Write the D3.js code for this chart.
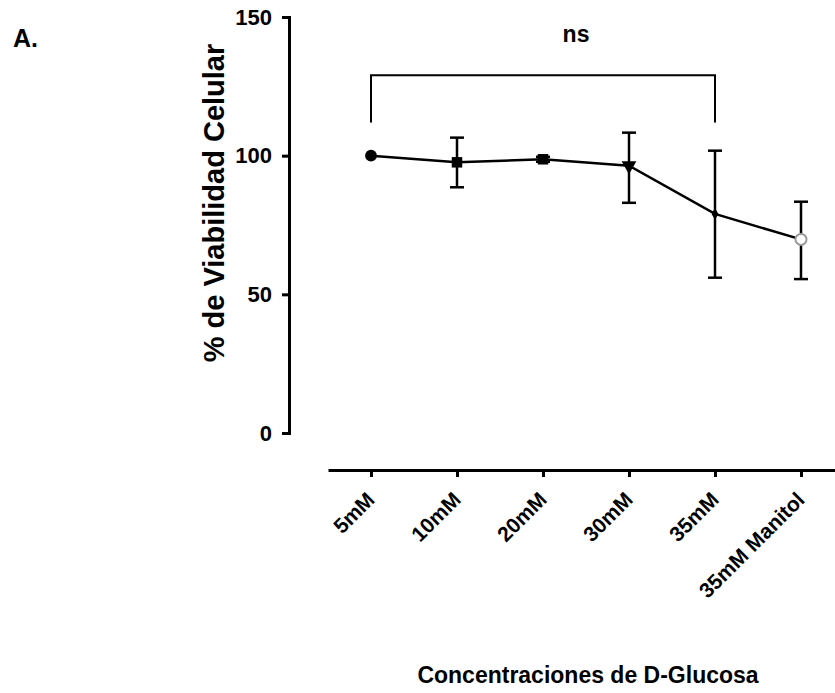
<!DOCTYPE html>
<html>
<head>
<meta charset="utf-8">
<script src="https://cdn.jsdelivr.net/npm/d3@7"></script>
<style>
  body { margin: 0; background: #fff; }
  svg text { font-family: "Liberation Sans", Arial, Helvetica, sans-serif; font-weight: bold; fill: #000; }
</style>
</head>
<body>
<svg id="chart" width="835" height="693"></svg>
<script>
// Data
var categories = ['5mM', '10mM', '20mM', '30mM', '35mM', '35mM Manitol'];
var meanValues = [100, 97.6, 98.7, 96.4, 79, 69.8];
var errUpper = [100, 106.5, 99.6, 108.3, 101.8, 83.4];
var errLower = [100, 88.6, 97.8, 83, 56, 55.5];
var symbolNames = ['circle', 'square', 'square', 'triangleDown', 'diamond', 'openCircle'];
var yTicks = [0, 50, 100, 150];

// significance bracket: 5mM vs 35mM
var bracketFrom = '5mM', bracketTo = '35mM';
var bracketTop = 129, bracketBottom = 112, bracketLabelValue = 141;
var bracketLabel = 'ns';

function renderChart(element) {
  var svg = d3.select('#' + element);

  var y = d3.scaleLinear().domain([0, 150]).range([433, 17]);
  var x = d3.scalePoint().domain(categories).range([328, 844]).padding(0.5);

  var points = categories.map(function(c, i) {
    return { cat: c, value: meanValues[i], hi: errUpper[i], lo: errLower[i], sym: symbolNames[i] };
  });

  // Y axis
  var yAxis = svg.append('g')
    .attr('transform', 'translate(289, 0)')
    .call(d3.axisLeft(y).tickValues(yTicks).tickSize(7).tickSizeOuter(0).tickPadding(10));
  yAxis.select('.domain').attr('stroke-width', 3).attr('stroke-linecap', 'square');
  yAxis.selectAll('.tick line').attr('stroke-width', 3);
  yAxis.selectAll('.tick text').attr('font-size', 22).attr('font-family', null);

  // X axis
  var xAxis = svg.append('g')
    .attr('transform', 'translate(0, 470)')
    .call(d3.axisBottom(x).tickSize(7).tickSizeOuter(0));
  xAxis.select('.domain').attr('stroke-width', 3);
  xAxis.selectAll('.tick line').attr('stroke-width', 3);
  xAxis.selectAll('.tick text').remove();

  svg.append('g').selectAll('text')
    .data(categories)
    .enter()
    .append('text')
      .attr('transform', function(d) { return 'translate(' + (x(d) + 5) + ', 501) rotate(-45)'; })
      .attr('text-anchor', 'end')
      .attr('font-size', 21)
      .text(function(d) { return d; });

  // Connecting line
  var line = d3.line()
    .x(function(d) { return x(d.cat); })
    .y(function(d) { return y(d.value); });
  svg.append('path')
    .datum(points)
    .attr('fill', 'none')
    .attr('stroke', '#000')
    .attr('stroke-width', 2.5)
    .attr('d', line);

  // Error bars
  var eb = svg.append('g').selectAll('g')
    .data(points.filter(function(d) { return d.hi !== d.lo; }))
    .enter()
    .append('g')
      .attr('stroke', '#000')
      .attr('stroke-width', 2.5);
  eb.append('line')
    .attr('x1', function(d) { return x(d.cat); })
    .attr('x2', function(d) { return x(d.cat); })
    .attr('y1', function(d) { return y(d.hi); })
    .attr('y2', function(d) { return y(d.lo); });
  eb.append('line')
    .attr('x1', function(d) { return x(d.cat) - 7; })
    .attr('x2', function(d) { return x(d.cat) + 7; })
    .attr('y1', function(d) { return y(d.hi); })
    .attr('y2', function(d) { return y(d.hi); });
  eb.append('line')
    .attr('x1', function(d) { return x(d.cat) - 7; })
    .attr('x2', function(d) { return x(d.cat) + 7; })
    .attr('y1', function(d) { return y(d.lo); })
    .attr('y2', function(d) { return y(d.lo); });

  // Markers
  var symTypes = {
    circle: [d3.symbolCircle, 110],
    square: [d3.symbolSquare, 110],
    triangleDown: [d3.symbolTriangle, 95],
    diamond: [d3.symbolDiamond, 40],
    openCircle: [d3.symbolCircle, 95]
  };
  svg.append('g').selectAll('path')
    .data(points)
    .enter()
    .append('path')
      .attr('transform', function(d) {
        var r = d.sym === 'triangleDown' ? ' rotate(180)' : '';
        return 'translate(' + x(d.cat) + ',' + y(d.value) + ')' + r;
      })
      .attr('d', function(d) { return d3.symbol().type(symTypes[d.sym][0]).size(symTypes[d.sym][1])(); })
      .attr('fill', function(d) { return d.sym === 'openCircle' ? '#fff' : '#000'; })
      .attr('stroke', function(d) { return d.sym === 'openCircle' ? '#9a9a9a' : 'none'; })
      .attr('stroke-width', 2);

  // Significance bracket
  svg.append('path')
    .attr('fill', 'none')
    .attr('stroke', '#000')
    .attr('stroke-width', 2)
    .attr('d', d3.line()([
      [x(bracketFrom), y(bracketBottom)],
      [x(bracketFrom), y(bracketTop)],
      [x(bracketTo), y(bracketTop)],
      [x(bracketTo), y(bracketBottom)]
    ]));
  svg.append('text')
    .attr('x', (x(bracketFrom) + x(bracketTo)) / 2 + 33)
    .attr('y', y(bracketLabelValue))
    .attr('text-anchor', 'middle')
    .attr('font-size', 23)
    .text(bracketLabel);

  // Titles
  svg.append('text')
    .attr('transform', 'translate(224, 203) rotate(-90)')
    .attr('text-anchor', 'middle')
    .attr('font-size', 29)
    .text('% de Viabilidad Celular');

  svg.append('text')
    .attr('x', 588)
    .attr('y', 683)
    .attr('text-anchor', 'middle')
    .attr('font-size', 23)
    .text('Concentraciones de D-Glucosa');

  svg.append('text')
    .attr('x', 13)
    .attr('y', 47)
    .attr('font-size', 25)
    .text('A.');
}

renderChart('chart');
</script>
</body>
</html>
